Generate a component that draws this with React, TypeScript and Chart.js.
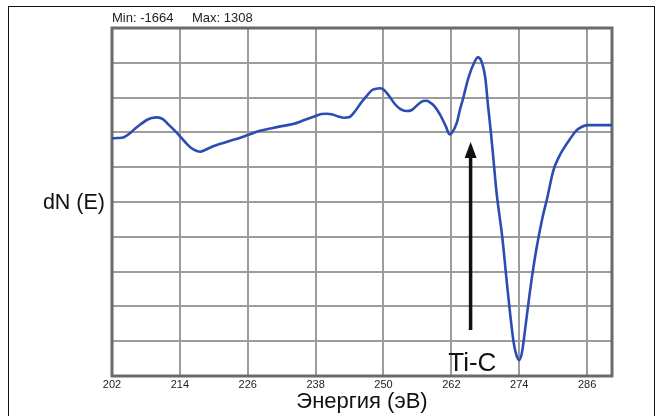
import { useEffect, useRef } from "react";
import { Chart, registerables } from "chart.js";

Chart.register(...registerables);

// Auger derivative spectrum around the Ti / C region
const ENERGY = [
  202, 203, 204, 205, 206, 207, 208, 209, 210, 211, 212, 213, 214, 215, 216, 217, 217.6, 218, 219,
  220, 221, 222, 223, 224, 226, 228, 230, 232, 234, 236, 238, 239, 240, 241, 242, 243, 244, 245,
  246, 247, 248, 249, 249.3, 250, 251, 252, 253, 254, 255, 256, 257, 257.7, 258, 259, 260, 261,
  261.7, 262, 263, 263.5, 264, 265, 266, 266.7, 267.3, 268, 268.5, 269, 269.5, 270, 271, 272, 273,
  273.5, 274, 274.5, 275, 276, 277, 278, 279, 280, 281, 282, 283, 284, 285, 286, 288, 290.4,
];

const SIGNAL = [
  513, 516, 521, 555, 604, 648, 688, 712, 719, 702, 648, 594, 535, 472, 418, 388, 381, 388, 413,
  437, 457, 472, 491, 506, 545, 584, 609, 633, 653, 692, 732, 751, 754, 746, 727, 715, 722, 781,
  859, 928, 987, 1002, 1004, 992, 928, 850, 800, 781, 791, 840, 879, 882, 874, 830, 746, 633,
  552, 560, 673, 791, 889, 1105, 1252, 1308, 1272, 1105, 823, 565, 270, -25, -456, -1006, -1487,
  -1615, -1664, -1585, -1379, -947, -584, -293, -60, 192, 329, 426, 508, 584, 624, 643, 643, 643,
];

const X_TICKS = [202, 214, 226, 238, 250, 262, 274, 286];
const X_MIN = 202;
const X_MAX = 290.4;
const Y_MIN = -1820;
const Y_MAX = 1596;
const Y_DIVISIONS = 10;

const X_TITLE = "Энергия (эВ)";
const Y_TITLE = "dN (E)";
const PEAK_LABEL = "Ti-C";
// arrow pointing at the Ti-C feature, in data units
const ARROW_X = 265.4;
const ARROW_FROM = -1369;
const ARROW_TO = 476;
const LABEL_X = 265.7;
const LABEL_Y = -1772;

const FONT = "'Liberation Sans', Arial, Helvetica, sans-serif";
const LINE_BLUE = "#2b4db3";
const GRID_GRAY = "#9c9c9c";
const FRAME_GRAY = "#6a6a6a";

const decorations = {
  id: "decorations",
  beforeDatasetsDraw(chart: any) {
    const { ctx, chartArea: a } = chart;
    ctx.save();
    ctx.strokeStyle = FRAME_GRAY;
    ctx.lineWidth = 3;
    ctx.strokeRect(a.left, a.top, a.right - a.left, a.bottom - a.top);
    ctx.restore();
  },
  afterDatasetsDraw(chart: any) {
    const { ctx, chartArea: a, scales } = chart;
    const xs = scales.x;
    const ys = scales.y;
    ctx.save();

    // arrow
    const ax = xs.getPixelForValue(ARROW_X);
    const yTip = ys.getPixelForValue(ARROW_TO);
    const yBase = ys.getPixelForValue(ARROW_FROM);
    const head = 16;
    ctx.strokeStyle = "#111";
    ctx.fillStyle = "#111";
    ctx.lineWidth = 3.5;
    ctx.beginPath();
    ctx.moveTo(ax, yBase);
    ctx.lineTo(ax, yTip + head - 2);
    ctx.stroke();
    ctx.beginPath();
    ctx.moveTo(ax, yTip);
    ctx.lineTo(ax - 6, yTip + head);
    ctx.lineTo(ax + 6, yTip + head);
    ctx.closePath();
    ctx.fill();

    // peak label
    ctx.font = `26px ${FONT}`;
    ctx.textAlign = "center";
    ctx.textBaseline = "alphabetic";
    ctx.fillStyle = "#111";
    ctx.fillText(PEAK_LABEL, xs.getPixelForValue(LABEL_X), ys.getPixelForValue(LABEL_Y));

    // vertical axis caption, written horizontally
    ctx.font = `21.5px ${FONT}`;
    ctx.textAlign = "right";
    ctx.textBaseline = "middle";
    ctx.fillText(Y_TITLE, a.left - 7, (a.top + a.bottom) / 2 + 1);

    // min / max readout
    const lo = Math.min(...SIGNAL);
    const hi = Math.max(...SIGNAL);
    ctx.font = `13px ${FONT}`;
    ctx.textAlign = "left";
    ctx.textBaseline = "alphabetic";
    ctx.fillStyle = "#222";
    ctx.fillText(`Min: ${lo}`, a.left, 22);
    ctx.fillText(`Max: ${hi}`, a.left + 80, 22);

    // outer frame
    ctx.strokeStyle = "#111";
    ctx.lineWidth = 1;
    ctx.strokeRect(8.5, 6.5, 646, 430);
    ctx.restore();
  },
};

export default function App() {
  const ref = useRef<HTMLCanvasElement>(null);

  useEffect(() => {
    if (!ref.current) return;
    const chart = new Chart(ref.current, {
      type: "line",
      data: {
        datasets: [
          {
            data: ENERGY.map((x, i) => ({ x, y: SIGNAL[i] })),
            borderColor: LINE_BLUE,
            borderWidth: 2.6,
            pointRadius: 0,
            fill: false,
            cubicInterpolationMode: "monotone",
          },
        ],
      },
      options: {
        animation: false,
        responsive: false,
        devicePixelRatio: 1,
        layout: { padding: { left: 112, right: 50, top: 28, bottom: 0 } },
        plugins: {
          legend: { display: false },
          tooltip: { enabled: false },
        },
        scales: {
          x: {
            type: "linear",
            min: X_MIN,
            max: X_MAX,
            afterBuildTicks: (s: any) => {
              s.ticks = X_TICKS.map((v) => ({ value: v }));
            },
            afterFit: (s: any) => {
              s.height = 40;
            },
            grid: { color: GRID_GRAY, lineWidth: 2, drawTicks: false },
            border: { display: false },
            ticks: {
              font: { size: 11, family: FONT },
              color: "#222",
              padding: 2,
              maxRotation: 0,
              autoSkip: false,
            },
            title: {
              display: true,
              text: X_TITLE,
              font: { size: 22, family: FONT },
              color: "#111",
              padding: { top: 0, bottom: 1 },
            },
          },
          y: {
            type: "linear",
            min: Y_MIN,
            max: Y_MAX,
            afterBuildTicks: (s: any) => {
              const step = (Y_MAX - Y_MIN) / Y_DIVISIONS;
              s.ticks = Array.from({ length: Y_DIVISIONS + 1 }, (_, i) => ({ value: Y_MIN + i * step }));
            },
            afterFit: (s: any) => {
              s.width = 0;
            },
            grid: { color: GRID_GRAY, lineWidth: 2, drawTicks: false },
            border: { display: false },
            ticks: { display: false },
          },
        },
      },
      plugins: [decorations],
    });
    return () => chart.destroy();
  }, []);

  return (
    <div style={{ position: "fixed", left: 0, top: 0, width: 662, height: 416, background: "#fff" }}>
      <canvas ref={ref} width={662} height={416} style={{ display: "block" }} />
    </div>
  );
}
